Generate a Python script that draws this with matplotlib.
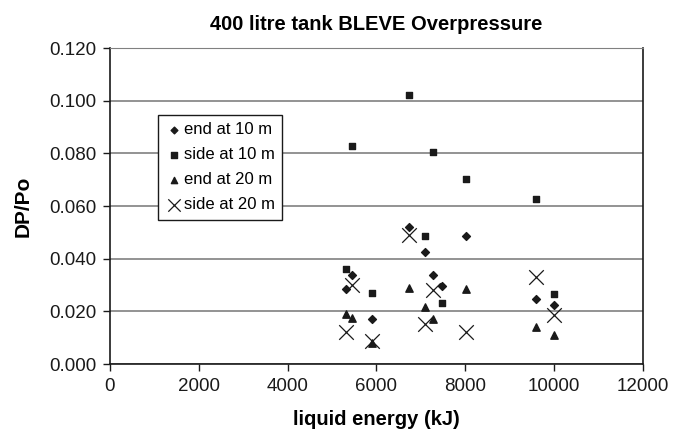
import matplotlib
matplotlib.use("Agg")
import matplotlib.pyplot as plt

plt.rcParams["font.family"] = ["Liberation Sans", "DejaVu Sans"]

energy = [5316, 5453, 5907, 6725, 7100, 7278, 7475, 8027, 9606, 10000]
end_10 = [0.0285, 0.0339, 0.0172, 0.0520, 0.0427, 0.0339, 0.0297, 0.0485, 0.0247, 0.0223]
side_10 = [0.0363, 0.0827, 0.0271, 0.1023, 0.0487, 0.0805, 0.0234, 0.0705, 0.0627, 0.0265]

energy_20 = [5316, 5453, 5907, 6725, 7100, 7278, 8027, 9606, 10000]
end_20 = [0.0190, 0.0177, 0.0082, 0.0290, 0.0218, 0.0172, 0.0285, 0.0141, 0.0111]
side_20 = [0.0122, 0.0301, 0.0086, 0.0491, 0.0151, 0.0282, 0.0122, 0.0332, 0.0186]

y_ticks = [0, 0.02, 0.04, 0.06, 0.08, 0.10, 0.12]

fig = plt.figure(figsize=(6.83, 4.34), dpi=100)
ax = fig.add_axes([0.161, 0.161, 0.780, 0.728])

ax.scatter(energy, end_10, marker="D", s=16, color="#1a1a1a", label="end at 10 m", zorder=3)
ax.scatter(energy, side_10, marker="s", s=22, color="#1a1a1a", label="side at 10 m", zorder=3)
ax.scatter(energy_20, end_20, marker="^", s=28, color="#1a1a1a", label="end at 20 m", zorder=3)
ax.scatter(energy_20, side_20, marker="x", s=110, color="#1a1a1a", linewidths=0.9,
           label="side at 20 m", zorder=3)

ax.set_xlim(0, 12000)
ax.set_ylim(0, 0.12)
ax.set_xticks(range(0, 12001, 2000))
ax.set_yticks(y_ticks)
ax.set_yticklabels([f"{v:.3f}" for v in y_ticks])
ax.yaxis.grid(True, color="#808080", linewidth=1.2)
ax.set_axisbelow(True)
ax.tick_params(direction="out", length=5, width=1, labelsize=13.5, colors="#1a1a1a", pad=5)
for s in ["left", "bottom", "right"]:
    ax.spines[s].set_color("#1a1a1a")
    ax.spines[s].set_linewidth(1.2)
ax.spines["top"].set_color("#808080")

ax.set_title("400 litre tank BLEVE Overpressure", fontsize=14.5, fontweight="bold", pad=13)
ax.set_xlabel("liquid energy (kJ)", fontsize=14.5, fontweight="bold", labelpad=11)
ax.set_ylabel("DP/Po", fontsize=15, fontweight="bold", labelpad=12)

leg = ax.legend(loc="upper left", bbox_to_anchor=(0.090, 0.790), fontsize=12,
                frameon=True, fancybox=False, edgecolor="#1a1a1a", framealpha=1,
                handletextpad=0.1, handlelength=1.0, borderpad=0.45, labelspacing=0.6,
                borderaxespad=0, markerscale=0.85)
leg.get_frame().set_linewidth(1.0)

fig.savefig("out.png", dpi=100)
